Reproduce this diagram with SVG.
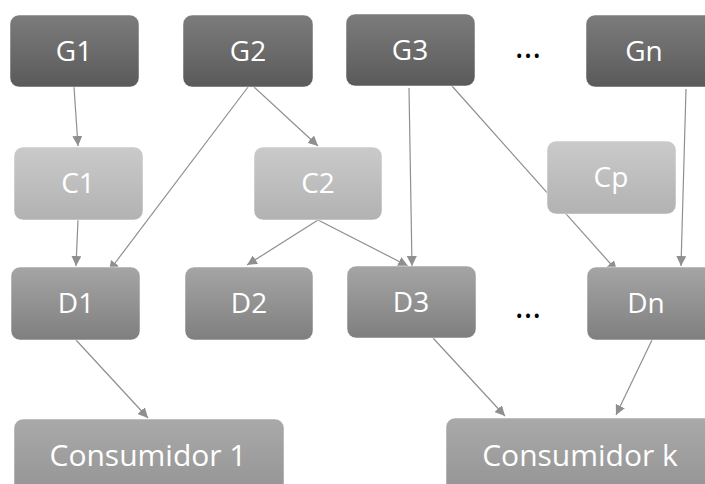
<svg xmlns="http://www.w3.org/2000/svg" width="705" height="484" viewBox="0 0 705 484">
<style>
.lbl{font-family:"Open Sans","Noto Sans","Liberation Sans",sans-serif;font-size:28px;fill:#ffffff;text-anchor:middle}
.big{font-size:30px}
.dots{font-family:"Open Sans","Liberation Sans",sans-serif;font-size:34px;fill:#000;text-anchor:middle}
.box{stroke:#ffffff;stroke-opacity:0.5;stroke-width:1}
.edge{stroke:#8f8f8f;stroke-width:1.2;fill:none;marker-end:url(#ah)}
</style>
<defs>
<linearGradient id="gG" x1="0" y1="0" x2="0" y2="1"><stop offset="0" stop-color="#7c7c7c"/><stop offset="1" stop-color="#5a5a5a"/></linearGradient>
<linearGradient id="gC" x1="0" y1="0" x2="0" y2="1"><stop offset="0" stop-color="#cacaca"/><stop offset="1" stop-color="#b2b2b2"/></linearGradient>
<linearGradient id="gD" x1="0" y1="0" x2="0" y2="1"><stop offset="0" stop-color="#a5a5a5"/><stop offset="1" stop-color="#7f7f7f"/></linearGradient>
<linearGradient id="gK" x1="0" y1="0" x2="0" y2="1"><stop offset="0" stop-color="#a9a9a9"/><stop offset="1" stop-color="#939393"/></linearGradient>
<marker id="ah" viewBox="0 0 10 10" refX="10" refY="5" markerWidth="10" markerHeight="10" markerUnits="userSpaceOnUse" orient="auto"><path d="M0,0 L10,5 L0,10 z" fill="#8f8f8f"/></marker>
</defs>
<g id="connectors">
<line class="edge" x1="74" y1="87" x2="78" y2="146"/>
<line class="edge" x1="78" y1="220" x2="76" y2="266"/>
<line class="edge" x1="248" y1="87" x2="109" y2="271"/>
<line class="edge" x1="254" y1="87" x2="318" y2="146"/>
<line class="edge" x1="318" y1="220" x2="247" y2="265"/>
<line class="edge" x1="318" y1="220" x2="408" y2="266"/>
<line class="edge" x1="409" y1="88" x2="412" y2="266"/>
<line class="edge" x1="452" y1="86" x2="617" y2="271"/>
<line class="edge" x1="686" y1="89" x2="681" y2="266"/>
<line class="edge" x1="76" y1="340" x2="148" y2="418"/>
<line class="edge" x1="433" y1="338" x2="505" y2="416"/>
<line class="edge" x1="652" y1="340" x2="616" y2="415"/>
</g>
<g id="G1"><rect class="box" x="10" y="15" width="129" height="72" rx="9" fill="url(#gG)"/><text class="lbl" x="74" y="61">G1</text></g>
<g id="G2"><rect class="box" x="183" y="15" width="130" height="72" rx="9" fill="url(#gG)"/><text class="lbl" x="248" y="61">G2</text></g>
<g id="G3"><rect class="box" x="346" y="14" width="129" height="72" rx="9" fill="url(#gG)"/><text class="lbl" x="410" y="60">G3</text></g>
<g id="Gdots"><text class="dots" x="528" y="58">…</text></g>
<g id="Gn"><rect class="box" x="586" y="15" width="129" height="72" rx="9" fill="url(#gG)"/><text class="lbl" x="644" y="61">Gn</text></g>
<g id="C1"><rect class="box" x="14" y="147" width="129" height="73" rx="9" fill="url(#gC)"/><text class="lbl" x="78" y="193">C1</text></g>
<g id="C2"><rect class="box" x="254" y="147" width="128" height="73" rx="9" fill="url(#gC)"/><text class="lbl" x="318" y="193">C2</text></g>
<g id="Cp"><rect class="box" x="547" y="141" width="129" height="73" rx="9" fill="url(#gC)"/><text class="lbl" x="611" y="187">Cp</text></g>
<g id="D1"><rect class="box" x="11" y="267" width="129" height="73" rx="9" fill="url(#gD)"/><text class="lbl" x="76" y="313">D1</text></g>
<g id="D2"><rect class="box" x="185" y="267" width="128" height="73" rx="9" fill="url(#gD)"/><text class="lbl" x="249" y="313">D2</text></g>
<g id="D3"><rect class="box" x="347" y="266" width="129" height="72" rx="9" fill="url(#gD)"/><text class="lbl" x="411" y="312">D3</text></g>
<g id="Ddots"><text class="dots" x="528" y="318">…</text></g>
<g id="Dn"><rect class="box" x="587" y="267" width="129" height="73" rx="9" fill="url(#gD)"/><text class="lbl" x="646" y="313">Dn</text></g>
<g id="Consumidor1"><rect class="box" x="14" y="419" width="270" height="80" rx="9" fill="url(#gK)"/><text class="lbl big" x="148" y="466">Consumidor 1</text></g>
<g id="ConsumidorK"><rect class="box" x="446" y="418" width="270" height="80" rx="9" fill="url(#gK)"/><text class="lbl big" x="580" y="466">Consumidor k</text></g>
</svg>
